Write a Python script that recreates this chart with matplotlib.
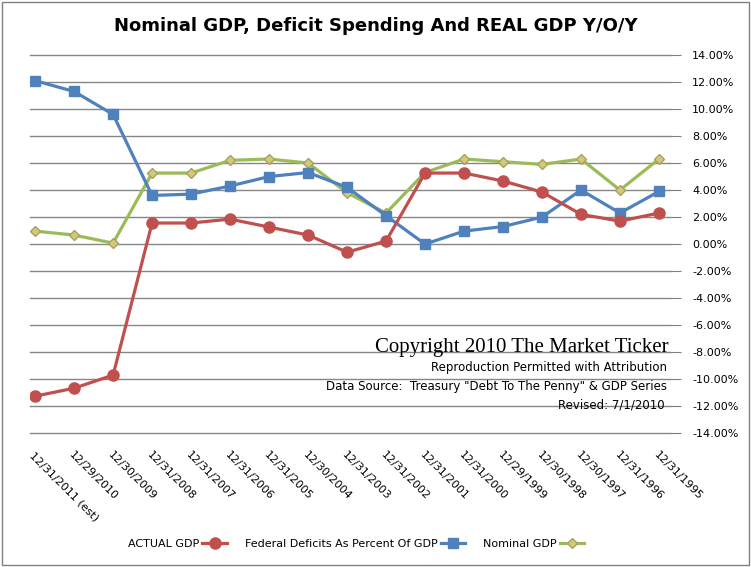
import matplotlib.pyplot as plt
import numpy as np

# categories, oldest first (chart is drawn with the x axis running right to left)
dates = ["12/31/1995", "12/31/1996", "12/30/1997", "12/30/1998", "12/29/1999",
         "12/31/2000", "12/31/2001", "12/31/2002", "12/31/2003", "12/30/2004",
         "12/31/2005", "12/31/2006", "12/31/2007", "12/31/2008", "12/30/2009",
         "12/29/2010", "12/31/2011 (est)"]

nominal_gdp = [6.3, 4.0, 6.3, 5.9, 6.1, 6.3, 5.3, 2.3, 3.8, 6.0,
               6.3, 6.2, 5.26, 5.26, 0.07, 0.67, 0.96]
deficits = [3.9, 2.3, 4.0, 2.0, 1.3, 0.96, 0.0, 2.1, 4.2, 5.3,
            5.0, 4.3, 3.7, 3.6, 9.6, 11.3, 12.1]
actual_gdp = [2.3, 1.7, 2.2, 3.85, 4.67, 5.26, 5.26, 0.22, -0.6, 0.67,
              1.26, 1.85, 1.56, 1.56, -9.7, -10.67, -11.26]

yticks = np.arange(-14, 15, 2)

fig = plt.figure(figsize=(7.51, 5.67), dpi=100)
ax = fig.add_axes([0.04, 0.236, 0.852, 0.667])

x = np.arange(len(dates))
ax.plot(x, nominal_gdp, color="#9BBB59", lw=2.3, marker="D", ms=5,
        mfc="#D6C77E", mec="#A3A35A", label="Nominal GDP")
ax.plot(x, deficits, color="#4F81BD", lw=2.3, marker="s", ms=7,
        mfc="#4F81BD", mec="#4F81BD", label="Federal Deficits As Percent Of GDP")
ax.plot(x, actual_gdp, color="#C0504D", lw=2.3, marker="o", ms=8,
        mfc="#C0504D", mec="#C0504D", label="ACTUAL GDP")

ax.set_xlim(16.13, -0.28)
ax.set_ylim(-14, 14)
ax.set_yticks(yticks)
ax.set_yticklabels(["%.2f%%" % v for v in yticks], fontsize=8)
ax.yaxis.tick_right()
ax.tick_params(axis="y", length=8, color="#808080", pad=8)
ax.grid(axis="y", color="#868686", lw=1)
for g in ax.get_ygridlines():
    g.set_clip_on(False)
ax.set_axisbelow(True)

ax.set_xticks(x)
ax.set_xticklabels(dates, rotation=-45, ha="left", rotation_mode="anchor", fontsize=8)
ax.tick_params(axis="x", length=0, pad=12)
for s in ax.spines.values():
    s.set_visible(False)

fig.text(0.5, 0.955, "Nominal GDP, Deficit Spending And REAL GDP Y/O/Y",
         ha="center", va="center", fontsize=13, fontweight="bold")

fig.text(0.89, 0.388, "Copyright 2010 The Market Ticker", ha="right", va="center",
         fontsize=15, family="Liberation Serif")
fig.text(0.888, 0.351, "Reproduction Permitted with Attribution", ha="right",
         va="center", fontsize=8.5)
fig.text(0.888, 0.318, 'Data Source:  Treasury "Debt To The Penny" & GDP Series',
         ha="right", va="center", fontsize=8.5)
fig.text(0.885, 0.286, "Revised: 7/1/2010", ha="right", va="center", fontsize=8.5)

h, l = ax.get_legend_handles_labels()
fig.legend(h[::-1], l[::-1], loc="center", bbox_to_anchor=(0.474, 0.04), ncol=3,
           frameon=False, fontsize=8, markerfirst=False, columnspacing=1.6,
           handlelength=2.2, handletextpad=0.3)

fig.patches.append(plt.Rectangle((0.003, 0.003), 0.994, 0.994, transform=fig.transFigure,
                                 fill=False, ec="#808080", lw=1))

fig.savefig("out.png", dpi=100)
